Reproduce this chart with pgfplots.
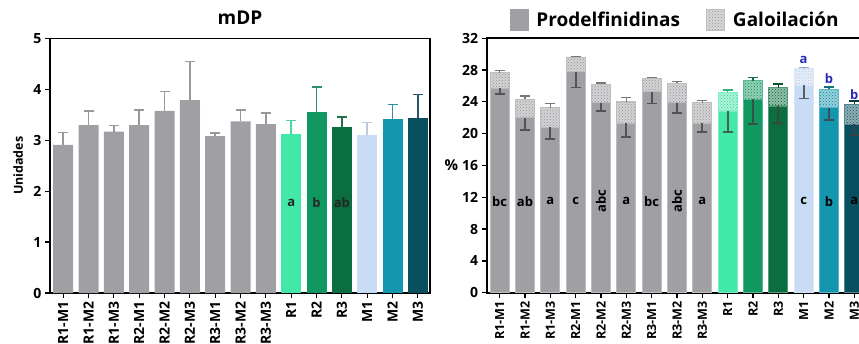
\documentclass[border=0pt]{standalone}
\usepackage{fontspec}
\setmainfont{Open Sans}
\usepackage{pgfplots}
\pgfplotsset{compat=1.18}
\usetikzlibrary{patterns}
\definecolor{cG}{RGB}{160,160,164}
\definecolor{cR1}{RGB}{66,232,168}
\definecolor{cR2}{RGB}{16,152,96}
\definecolor{cR3}{RGB}{10,110,65}
\definecolor{cM1}{RGB}{200,220,245}
\definecolor{cM2}{RGB}{20,150,175}
\definecolor{cM3}{RGB}{8,80,95}
\definecolor{lblue}{RGB}{40,40,190}
\newcommand\fs[1]{\fontsize{#1}{#1}\selectfont\bfseries}
\pgfplotsset{
  base/.style={
    scale only axis, height=254.5pt, ymin=0,
    xtick={0,...,14},
    xticklabels={R1-M1,R1-M2,R1-M3,R2-M1,R2-M2,R2-M3,R3-M1,R3-M2,R3-M3,R1,R2,R3,M1,M2,M3},
    xtick pos=lower, ytick pos=left, tick align=outside,
    major tick length=5pt,
    every tick/.style={black, line width=1.3pt},
    axis line style={black, line width=1.6pt},
    xticklabel style={rotate=90, anchor=east, font=\fs{12.6}},
    yticklabel style={font=\fs{14}},
    /pgf/number format/assume math mode=true,
    clip=false,
  },
  lbar/.style={ybar, bar width=20pt, bar shift=0pt, fill=#1, draw=none,
    error bars/y dir=plus, error bars/y explicit, error bars/error mark=|,
    error bars/error bar style={color=#1!80!gray, line width=1.6pt},
    error bars/error mark options={color=#1!80!gray, line width=1.6pt, mark size=5pt}},
  tot/.style={ybar, bar width=19pt, bar shift=0pt, fill=#1!45!white, draw=#1!70!white, line width=1.2pt,
    postaction={pattern=crosshatch dots, pattern color=#1!90!black},
    error bars/y dir=plus, error bars/y explicit, error bars/error mark=|,
    error bars/error bar style={color=#1!75!black, line width=1.6pt},
    error bars/error mark options={color=#1!75!black, line width=1.6pt, mark size=5pt}},
  pd/.style={ybar, bar width=19pt, bar shift=0pt, fill=#1, draw=#1!70!white, line width=1.2pt,
    error bars/y dir=minus, error bars/y explicit, error bars/error mark=|,
    error bars/error bar style={color=#1!20!darkgray, line width=1.8pt},
    error bars/error mark options={color=#1!20!darkgray, line width=1.8pt, mark size=5pt}},
}
\begin{document}
\begin{tikzpicture}
% ---------------- left: mDP ----------------
\begin{axis}[base, at={(50pt,50pt)}, anchor=south west, width=380pt,
  xmin=-0.52, xmax=14.48, ymax=5, ytick={0,...,5},
  xticklabel style={font=\fs{14}},
  title={mDP}, title style={font=\fs{19}, at={(axis description cs:0.5,1.06)}, anchor=center},
  ylabel={Unidades}, ylabel style={font=\fs{12.5}, at={(axis description cs:-0.084,0.5)}, anchor=center}]
\addplot[lbar=cG] coordinates {
 (0,2.91) +- (0,0.24)
 (1,3.30) +- (0,0.28)
 (2,3.17) +- (0,0.12)
 (3,3.30) +- (0,0.29)
 (4,3.58) +- (0,0.38)
 (5,3.79) +- (0,0.76)
 (6,3.08) +- (0,0.06)
 (7,3.37) +- (0,0.23)
 (8,3.32) +- (0,0.22)};
\addplot[lbar=cR1] coordinates {(9,3.13) +- (0,0.26)};
\addplot[lbar=cR2] coordinates {(10,3.56) +- (0,0.49)};
\addplot[lbar=cR3] coordinates {(11,3.26) +- (0,0.20)};
\addplot[lbar=cM1] coordinates {(12,3.10) +- (0,0.25)};
\addplot[lbar=cM2] coordinates {(13,3.42) +- (0,0.28)};
\addplot[lbar=cM3] coordinates {(14,3.43) +- (0,0.47)};
\node[font=\fs{13}, text=black!85] at (axis cs:9,1.77) {a};
\node[font=\fs{13}, text=black!85] at (axis cs:10,1.77) {b};
\node[font=\fs{13}, text=black!85] at (axis cs:11,1.77) {ab};
\end{axis}
% ---------------- right: % ----------------
\begin{axis}[base, at={(486.7pt,50.3pt)}, anchor=south west, width=379.5pt,
  xmin=-0.513, xmax=14.47, ymax=32, ytick={0,4,...,32},
  ylabel={\%}, ylabel style={font=\fs{15}, rotate=-90, at={(axis description cs:-0.093,0.5)}, anchor=center},
  legend style={at={(axis description cs:0.497,1.072)}, anchor=center, draw=none, fill=none,
    legend columns=2, font=\fs{19},
    /tikz/every odd column/.append style={column sep=6pt},
    /tikz/every even column/.append style={column sep=24pt}},
  ]
\addlegendimage{legend image code/.code={\fill[cG] (0pt,-10.5pt) rectangle (18pt,10.5pt);}}
\addlegendentry{Prodelfinidinas}
\addlegendimage{legend image code/.code={\draw[fill=cG!40!white, draw=cG!70!white, line width=1pt, postaction={pattern=crosshatch dots, pattern color=cG!90!black}] (0pt,-10.5pt) rectangle (18pt,10.5pt);}}
\addlegendentry{Galoilación}
% totals (hatched, galloylation on top)
\addplot[tot=cG, forget plot] coordinates {
 (0,27.65) +- (0,0.30)
 (1,24.33) +- (0,0.42)
 (2,23.28) +- (0,0.52)
 (3,29.60) +- (0,0.12)
 (4,26.22) +- (0,0.13)
 (5,23.99) +- (0,0.56)
 (6,26.98) +- (0,0.09)
 (7,26.35) +- (0,0.20)
 (8,23.91) +- (0,0.25)};
\addplot[pd=cG, forget plot] coordinates {
 (0,25.70) +- (0,0.75)
 (1,22.00) +- (0,1.55)
 (2,20.80) +- (0,1.47)
 (3,27.78) +- (0,1.98)
 (4,23.91) +- (0,1.06)
 (5,21.30) +- (0,1.73)
 (6,25.25) +- (0,1.46)
 (7,23.91) +- (0,1.35)
 (8,21.30) +- (0,1.10)};
\addplot[tot=cR1, forget plot] coordinates {(9,25.18) +- (0,0.32)};
\addplot[pd=cR1, forget plot] coordinates {(9,22.85) +- (0,2.65)};
\addplot[tot=cR2, forget plot] coordinates {(10,26.64) +- (0,0.43)};
\addplot[pd=cR2, forget plot] coordinates {(10,24.33) +- (0,3.16)};
\addplot[tot=cR3, forget plot] coordinates {(11,25.80) +- (0,0.42)};
\addplot[pd=cR3, forget plot] coordinates {(11,23.48) +- (0,2.18)};
\addplot[tot=cM1, forget plot] coordinates {(12,28.12) +- (0,0.21)};
\addplot[pd=cM1, forget plot] coordinates {(12,26.10) +- (0,1.68)};
\addplot[tot=cM2, forget plot] coordinates {(13,25.60) +- (0,0.28)};
\addplot[pd=cM2, forget plot] coordinates {(13,23.28) +- (0,1.58)};
\addplot[tot=cM3, forget plot] coordinates {(14,23.70) +- (0,0.42)};
\addplot[pd=cM3, forget plot] coordinates {(14,21.17) +- (0,1.39)};
\node[font=\fs{13}] at (axis cs:0,11.5) {bc};
\node[font=\fs{13}] at (axis cs:1,11.5) {ab};
\node[font=\fs{13}] at (axis cs:2,11.5) {a};
\node[font=\fs{13}] at (axis cs:3,11.5) {c};
\node[font=\fs{13}, rotate=90] at (axis cs:4,11.5) {abc};
\node[font=\fs{13}] at (axis cs:5,11.5) {a};
\node[font=\fs{13}] at (axis cs:6,11.5) {bc};
\node[font=\fs{13}, rotate=90] at (axis cs:7,11.5) {abc};
\node[font=\fs{13}] at (axis cs:8,11.5) {a};
\node[font=\fs{13}] at (axis cs:12,11.5) {c};
\node[font=\fs{13}] at (axis cs:13,11.5) {b};
\node[font=\fs{13}] at (axis cs:14,11.5) {a};
\node[font=\fs{13}, text=lblue] at (axis cs:12,29.25) {a};
\node[font=\fs{13}, text=lblue] at (axis cs:13,26.86) {b};
\node[font=\fs{13}, text=lblue] at (axis cs:14,24.96) {b};
\end{axis}
\pgfresetboundingbox
\path[use as bounding box] (0,0) rectangle (859pt,343pt);
\end{tikzpicture}
\end{document}
